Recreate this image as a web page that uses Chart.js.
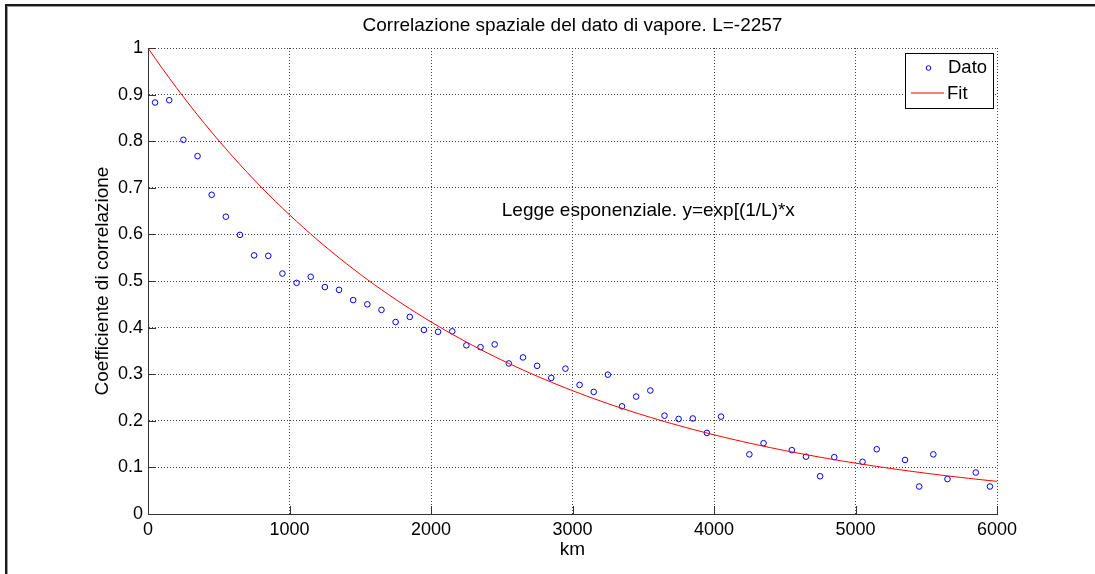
<!DOCTYPE html>
<html>
<head>
<meta charset="utf-8">
<script src="https://cdn.jsdelivr.net/npm/chart.js@4/dist/chart.umd.min.js"></script>
<style>
  html, body { margin: 0; padding: 0; background: #ffffff; }
  canvas { display: block; }
</style>
</head>
<body>
<canvas id="grafico" width="1095" height="574"></canvas>
<script>
// Distanze (km) a cui è stata calcolata la correlazione del vapore
const datoKm = [
  50, 150, 250, 350, 450, 550, 650, 750, 850, 950,
  1050, 1150, 1250, 1350, 1450, 1550, 1650, 1750, 1850, 1950,
  2050, 2150, 2250, 2350, 2450, 2550, 2650, 2750, 2850, 2950,
  3050, 3150, 3250, 3350, 3450, 3550, 3650, 3750, 3850, 3950,
  4050, 4250, 4350, 4550, 4650, 4750, 4850,
  5050, 5150, 5350, 5450, 5550, 5650, 5850, 5950
];
// Coefficiente di correlazione osservato
const datoCorr = [
  0.883, 0.888, 0.803, 0.768, 0.685, 0.638, 0.599, 0.555, 0.554, 0.516,
  0.496, 0.509, 0.487, 0.481, 0.459, 0.450, 0.438, 0.412, 0.423, 0.395,
  0.391, 0.392, 0.362, 0.358, 0.364, 0.323, 0.336, 0.318, 0.292, 0.312,
  0.277, 0.262, 0.299, 0.231, 0.252, 0.265, 0.211, 0.204, 0.205, 0.174,
  0.209, 0.128, 0.152, 0.137, 0.123, 0.081, 0.122,
  0.112, 0.139, 0.116, 0.059, 0.128, 0.075, 0.089, 0.059
];
// Lunghezza di correlazione del fit esponenziale y = exp((1/L)*x)
const fitL = -2257;
const fitKmMax = 6000;
const fitPasso = 50;

// Tacche degli assi
const tickX = [0, 1000, 2000, 3000, 4000, 5000, 6000];
const tickY = [0, 0.1, 0.2, 0.3, 0.4, 0.5, 0.6, 0.7, 0.8, 0.9, 1];

const titolo = 'Correlazione spaziale del dato di vapore. L=' + fitL;
const etichettaX = 'km';
const etichettaY = 'Coefficiente di correlazione';
const nota = 'Legge esponenziale. y=exp[(1/L)*x';
const notaPos = { x: 2500, y: 0.65 };
const nomiSerie = ['Dato', 'Fit'];

const FONT = '"Liberation Sans", Arial, Helvetica, sans-serif';

const puntiDato = datoKm.map((k, i) => ({ x: k, y: datoCorr[i] }));
const puntiFit = [];
for (let k = 0; k <= fitKmMax; k += fitPasso) {
  puntiFit.push({ x: k, y: Math.exp(k / fitL) });
}

// Cornice esterna della figura
const cornice = {
  id: 'cornice',
  beforeDraw(chart) {
    const c = chart.ctx;
    c.save();
    c.fillStyle = '#ffffff';
    c.fillRect(0, 0, chart.width, chart.height);
    c.fillStyle = '#1a1a1a';
    c.fillRect(5, 4, chart.width - 5, 2);
    c.fillRect(5, 4, 2, chart.height - 4);
    c.fillStyle = '#9a9a9a';
    c.fillRect(7, 6, chart.width - 7, 1);
    c.fillRect(7, 6, 1, chart.height - 6);
    c.restore();
  }
};

// Titolo, tacche interne sugli assi, legenda e nota testuale
const decorazioni = {
  id: 'decorazioni',
  afterDraw(chart) {
    const c = chart.ctx;
    const sx = chart.scales.x, sy = chart.scales.y;
    const a = chart.chartArea;
    const lung = 8;
    c.save();

    // titolo centrato sull'area del grafico
    c.fillStyle = '#000000';
    c.font = '19px ' + FONT;
    c.textAlign = 'center';
    c.textBaseline = 'middle';
    c.fillText(titolo, (a.left + a.right) / 2, 26);

    c.strokeStyle = '#333333';
    c.lineWidth = 1;
    c.beginPath();
    tickX.forEach(v => {
      const px = Math.round(sx.getPixelForValue(v)) + 0.5;
      c.moveTo(px, a.bottom);
      c.lineTo(px, a.bottom - lung);
    });
    tickY.forEach(v => {
      const py = Math.round(sy.getPixelForValue(v)) + 0.5;
      c.moveTo(a.left, py);
      c.lineTo(a.left + lung, py);
    });
    c.stroke();

    // nota
    c.fillStyle = '#000000';
    c.font = '19px ' + FONT;
    c.textAlign = 'left';
    c.textBaseline = 'middle';
    c.fillText(nota, sx.getPixelForValue(notaPos.x), sy.getPixelForValue(notaPos.y));

    // legenda
    const ds = chart.data.datasets;
    const bx = 905.5, by = 53.5, bw = 88, bh = 55;
    c.fillStyle = '#ffffff';
    c.fillRect(bx, by, bw, bh);
    c.strokeStyle = '#000000';
    c.lineWidth = 1;
    c.strokeRect(bx, by, bw, bh);

    c.strokeStyle = ds[0].borderColor;
    c.beginPath();
    c.arc(928.5, 68, 2.3, 0, Math.PI * 2);
    c.stroke();

    c.strokeStyle = ds[1].borderColor;
    c.beginPath();
    c.moveTo(911, 93);
    c.lineTo(944, 93);
    c.stroke();

    c.fillStyle = '#000000';
    c.font = '18.5px ' + FONT;
    c.fillText(ds[0].label, 948, 68);
    c.fillText(ds[1].label, 947, 93.5);
    c.restore();
  }
};

new Chart(document.getElementById('grafico'), {
  type: 'scatter',
  data: {
    datasets: [
      {
        label: nomiSerie[0],
        data: puntiDato,
        showLine: false,
        pointStyle: 'circle',
        pointRadius: 2.8,
        pointBorderWidth: 1,
        borderColor: '#0000ff',
        backgroundColor: 'rgba(0,0,0,0)',
        order: 1
      },
      {
        label: nomiSerie[1],
        data: puntiFit,
        showLine: true,
        pointRadius: 0,
        borderWidth: 1,
        borderColor: '#ff0000',
        backgroundColor: 'rgba(0,0,0,0)',
        tension: 0,
        order: 0
      }
    ]
  },
  options: {
    responsive: false,
    animation: false,
    devicePixelRatio: 1,
    layout: { padding: { left: 0, right: 98, top: 48, bottom: 0 } },
    plugins: {
      legend: { display: false },
      tooltip: { enabled: false },
      title: { display: false }
    },
    scales: {
      x: {
        type: 'linear',
        min: 0,
        max: 6000,
        afterBuildTicks(scale) { scale.ticks = tickX.map(v => ({ value: v })); },
        afterFit(scale) { scale.height = 60; },
        ticks: {
          color: '#000000',
          font: { family: FONT, size: 18 },
          padding: 5,
          maxRotation: 0,
          autoSkip: false,
          callback: v => String(v)
        },
        grid: {
          color: '#444444',
          lineWidth: 1,
          drawTicks: false,
          tickLength: 0
        },
        border: { display: true, color: '#333333', width: 1, dash: [1, 2] },
        title: {
          display: true,
          text: etichettaX,
          color: '#000000',
          font: { family: FONT, size: 19 },
          padding: { top: 0, bottom: 12.6 }
        }
      },
      y: {
        type: 'linear',
        min: 0,
        max: 1,
        afterBuildTicks(scale) { scale.ticks = tickY.map(v => ({ value: v })); },
        afterFit(scale) { scale.width = 148; },
        ticks: {
          color: '#000000',
          font: { family: FONT, size: 18 },
          padding: 5,
          autoSkip: false,
          callback: v => String(Math.round(v * 10) / 10)
        },
        grid: {
          color: '#444444',
          lineWidth: 1,
          drawTicks: false,
          tickLength: 0
        },
        border: { display: true, color: '#333333', width: 1, dash: [1, 2] },
        title: {
          display: true,
          text: etichettaY,
          color: '#000000',
          font: { family: FONT, size: 19 },
          padding: { top: 91.6, bottom: 0 }
        }
      }
    }
  },
  plugins: [cornice, decorazioni]
});
</script>
</body>
</html>
